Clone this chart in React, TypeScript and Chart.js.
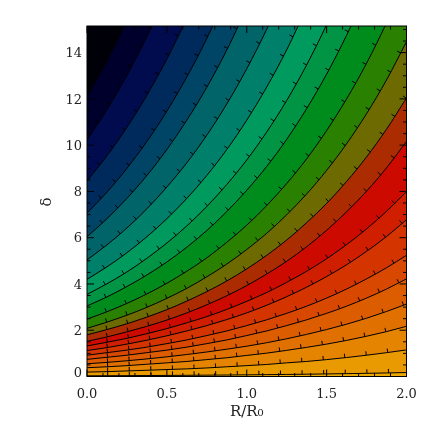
import React, { useEffect, useRef } from 'react';
import { Chart, registerables } from 'chart.js';

Chart.register(...registerables);

// R/R0 sample positions shared by every contour line
const R_VALUES = [0, 0.125, 0.25, 0.375, 0.5, 0.625, 0.75, 0.875, 1.0, 1.125, 1.25, 1.375, 1.5, 1.625, 1.75, 1.875, 2.0];

// delta values of each contour line at the R samples (top-left line first)
const C01 = [12.1, 13.66, 15.42, 17.41];
const C02 = [10.22, 11.54, 13.02, 14.7, 16.6];
const C03 = [8.45, 9.54, 10.77, 12.16, 13.72, 15.49, 17.49];
const C04 = [7.06, 7.97, 9.0, 10.16, 11.47, 12.95, 14.61, 16.5];
const C05 = [6.04, 6.82, 7.7, 8.69, 9.81, 11.08, 12.5, 14.11, 15.93];
const C06 = [5.04, 5.69, 6.42, 7.25, 8.19, 9.24, 10.43, 11.78, 13.3, 15.01, 16.94];
const C07 = [4.2, 4.74, 5.35, 6.04, 6.82, 7.7, 8.69, 9.81, 11.08, 12.51, 14.12, 15.94];
const C08 = [3.55, 4.01, 4.52, 5.11, 5.77, 6.51, 7.35, 8.3, 9.36, 10.57, 11.93, 13.47, 15.21, 17.17];
const C09 = [3.05, 3.44, 3.89, 4.39, 4.95, 5.59, 6.31, 7.13, 8.05, 9.08, 10.25, 11.58, 13.07, 14.75, 16.65];
const C10 = [2.48, 2.8, 3.16, 3.57, 4.03, 4.55, 5.13, 5.8, 6.54, 7.39, 8.34, 9.41, 10.63, 12.0, 13.54, 15.29, 17.26];
const C11 = [2.08, 2.35, 2.65, 2.99, 3.38, 3.81, 4.31, 4.86, 5.49, 6.19, 6.99, 7.89, 8.91, 10.06, 11.36, 12.82, 14.47];
const C12 = [1.8, 2.03, 2.28, 2.57, 2.89, 3.26, 3.67, 4.13, 4.65, 5.24, 5.9, 6.65, 7.48, 8.43, 9.49, 10.69, 12.04];
const C13 = [1.52, 1.71, 1.93, 2.17, 2.44, 2.75, 3.1, 3.49, 3.93, 4.43, 4.98, 5.61, 6.32, 7.12, 8.01, 9.02, 10.16];
const C14 = [1.32, 1.48, 1.65, 1.85, 2.07, 2.32, 2.59, 2.9, 3.25, 3.63, 4.07, 4.55, 5.09, 5.7, 6.38, 7.14, 7.99];
const C15 = [1.12, 1.25, 1.4, 1.57, 1.76, 1.97, 2.2, 2.46, 2.75, 3.08, 3.45, 3.86, 4.32, 4.83, 5.41, 6.05, 6.78];
const C16 = [0.92, 1.03, 1.14, 1.27, 1.42, 1.58, 1.77, 1.97, 2.2, 2.45, 2.73, 3.04, 3.39, 3.78, 4.22, 4.7, 5.24];
const C17 = [0.74, 0.83, 0.92, 1.03, 1.14, 1.27, 1.42, 1.58, 1.77, 1.97, 2.2, 2.45, 2.73, 3.04, 3.39, 3.78, 4.22];
const C18 = [0.55, 0.61, 0.68, 0.76, 0.85, 0.95, 1.06, 1.18, 1.31, 1.46, 1.63, 1.82, 2.03, 2.26, 2.52, 2.81, 3.13];
const C19 = [0.38, 0.42, 0.47, 0.53, 0.59, 0.65, 0.73, 0.81, 0.91, 1.01, 1.13, 1.26, 1.4, 1.56, 1.74, 1.94, 2.17];
const C20 = [0.19, 0.21, 0.24, 0.27, 0.3, 0.33, 0.37, 0.42, 0.47, 0.52, 0.59, 0.65, 0.73, 0.82, 0.92, 1.03, 1.15];
const C21 = [0.03, 0.033, 0.037, 0.042, 0.046, 0.052, 0.058, 0.064, 0.072, 0.08, 0.089, 0.099, 0.111, 0.123, 0.138, 0.153, 0.171];

const CONTOURS = [C01, C02, C03, C04, C05, C06, C07, C08, C09, C10, C11, C12, C13, C14, C15, C16, C17, C18, C19, C20, C21];

// colour of each band, from the top-left corner (above C01) to the bottom (below C21)
const BAND_COLORS = [
  '#000008', '#00002c', '#000c4e', '#002a5c', '#004466', '#006468', '#00806a', '#009a5e',
  '#009444', '#008c1c', '#2a8000', '#6c6a00', '#aa2c00', '#cc0a00', '#d01e00', '#d43400',
  '#d84800', '#dc5c00', '#e07000', '#e58400', '#e99a00', '#eca800',
];

const X_TICKS = [0, 0.5, 1.0, 1.5, 2.0];
const X_LABELS = ['0.0', '0.5', '1.0', '1.5', '2.0'];
const Y_TICKS = [0, 2, 4, 6, 8, 10, 12, 14];
const Y_LABELS = ['0', '2', '4', '6', '8', '10', '12', '14'];

const X_TITLE = 'R/R\u2080';
const Y_TITLE = '\u03b4';

const TICK_START = 20.7;
const TICK_GAP = 21.6;
const TICK_LEN = 4;

const decorPlugin = {
  id: 'contourDecor',
  beforeDatasetsDraw(chart: any) {
    const { ctx, chartArea: a } = chart;
    ctx.save();
    ctx.fillStyle = BAND_COLORS[BAND_COLORS.length - 1];
    ctx.fillRect(a.left, a.top, a.right - a.left, a.bottom - a.top);
    ctx.restore();
  },
  afterDatasetsDraw(chart: any) {
    const { ctx, chartArea: a } = chart;
    ctx.save();
    ctx.beginPath();
    ctx.rect(a.left, a.top, a.right - a.left, a.bottom - a.top);
    ctx.clip();
    ctx.strokeStyle = '#000';
    ctx.lineWidth = 1;
    ctx.beginPath();
    const N = 24;
    chart.data.datasets.forEach((_: any, i: number) => {
      const pts = chart.getDatasetMeta(i).data;
      let s = 0;
      let next = TICK_START;
      for (let j = 0; j < pts.length - 1; j++) {
        const p0 = pts[j];
        const p1 = pts[j + 1];
        const c1x = p0.cp2x ?? p0.x;
        const c1y = p0.cp2y ?? p0.y;
        const c2x = p1.cp1x ?? p1.x;
        const c2y = p1.cp1y ?? p1.y;
        let px = p0.x;
        let py = p0.y;
        for (let k = 1; k <= N; k++) {
          const t = k / N;
          const mt = 1 - t;
          const qx = mt * mt * mt * p0.x + 3 * mt * mt * t * c1x + 3 * mt * t * t * c2x + t * t * t * p1.x;
          const qy = mt * mt * mt * p0.y + 3 * mt * mt * t * c1y + 3 * mt * t * t * c2y + t * t * t * p1.y;
          const dx = qx - px;
          const dy = qy - py;
          const d = Math.hypot(dx, dy);
          while (d > 0 && s + d >= next) {
            const f = (next - s) / d;
            const bx = px + dx * f;
            const by = py + dy * f;
            const ux = dx / d;
            const uy = dy / d;
            ctx.moveTo(bx, by);
            ctx.lineTo(bx + uy * TICK_LEN, by - ux * TICK_LEN);
            next += TICK_GAP;
          }
          s += d;
          px = qx;
          py = qy;
        }
      }
    });
    ctx.stroke();
    ctx.restore();
  },
  afterDraw(chart: any) {
    const { ctx, chartArea: a, scales } = chart;
    const xs = scales.x;
    const ys = scales.y;
    ctx.save();
    ctx.strokeStyle = '#000';
    ctx.lineWidth = 1;
    ctx.strokeRect(a.left, a.top, a.right - a.left, a.bottom - a.top);
    ctx.beginPath();
    // x axis ticks (bottom and top, inward)
    for (let i = 0; i <= 20; i++) {
      const v = i * 0.1;
      const px = xs.getPixelForValue(v);
      const len = i % 5 === 0 ? 7 : 3.5;
      ctx.moveTo(px, a.bottom);
      ctx.lineTo(px, a.bottom - len);
      ctx.moveTo(px, a.top);
      ctx.lineTo(px, a.top + len);
    }
    // y axis ticks (left and right, inward)
    for (let i = 0; i <= 30; i++) {
      const v = i * 0.5;
      if (v > ys.max) break;
      const py = ys.getPixelForValue(v);
      const len = i % 4 === 0 ? 7 : 3.5;
      ctx.moveTo(a.left, py);
      ctx.lineTo(a.left + len, py);
      ctx.moveTo(a.right, py);
      ctx.lineTo(a.right - len, py);
    }
    ctx.stroke();

    ctx.fillStyle = '#222';
    ctx.font = '13px "DejaVu Serif"';
    ctx.textBaseline = 'alphabetic';
    ctx.textAlign = 'center';
    X_TICKS.forEach((v, i) => {
      ctx.fillText(X_LABELS[i], xs.getPixelForValue(v), a.bottom + 21);
    });
    ctx.textAlign = 'right';
    Y_TICKS.forEach((v, i) => {
      const py = Math.min(ys.getPixelForValue(v), a.bottom - 4.8);
      ctx.fillText(Y_LABELS[i], a.left - 5, py + 4.8);
    });

    ctx.font = '15px "DejaVu Serif"';
    ctx.textAlign = 'center';
    ctx.fillText(X_TITLE, (a.left + a.right) / 2, a.bottom + 39.5);

    ctx.save();
    ctx.translate(47.5, 202);
    ctx.rotate(-Math.PI / 2);
    ctx.textBaseline = 'middle';
    ctx.fillText(Y_TITLE, 0, 0);
    ctx.restore();
    ctx.restore();
  },
};

export default function App() {
  const canvasRef = useRef<HTMLCanvasElement | null>(null);

  useEffect(() => {
    const canvas = canvasRef.current;
    if (!canvas) return;
    const datasets = CONTOURS.map((values, k) => ({
      data: values.map((y, i) => ({ x: R_VALUES[i], y })),
      fill: 'end',
      backgroundColor: BAND_COLORS[k],
      borderColor: '#000',
      borderWidth: 1,
      pointRadius: 0,
      cubicInterpolationMode: 'monotone',
      clip: 0,
    }));
    const chart = new Chart(canvas, {
      type: 'line',
      data: { datasets } as any,
      options: {
        animation: false,
        responsive: false,
        devicePixelRatio: 1,
        events: [],
        layout: { padding: { left: 87, right: 25.5, top: 26, bottom: 55.5 } },
        scales: {
          x: { type: 'linear', min: 0, max: 2, display: false },
          y: { type: 'linear', min: 0, max: 15.15, display: false },
        },
        plugins: {
          legend: { display: false },
          tooltip: { enabled: false },
          filler: { propagate: false },
        },
      } as any,
      plugins: [decorPlugin],
    });
    return () => chart.destroy();
  }, []);

  return (
    <div style={{ position: 'absolute', left: 0, top: 0, width: 432, height: 432, background: '#fff' }}>
      <canvas ref={canvasRef} width={432} height={432} style={{ width: 432, height: 432, display: 'block' }} />
    </div>
  );
}
